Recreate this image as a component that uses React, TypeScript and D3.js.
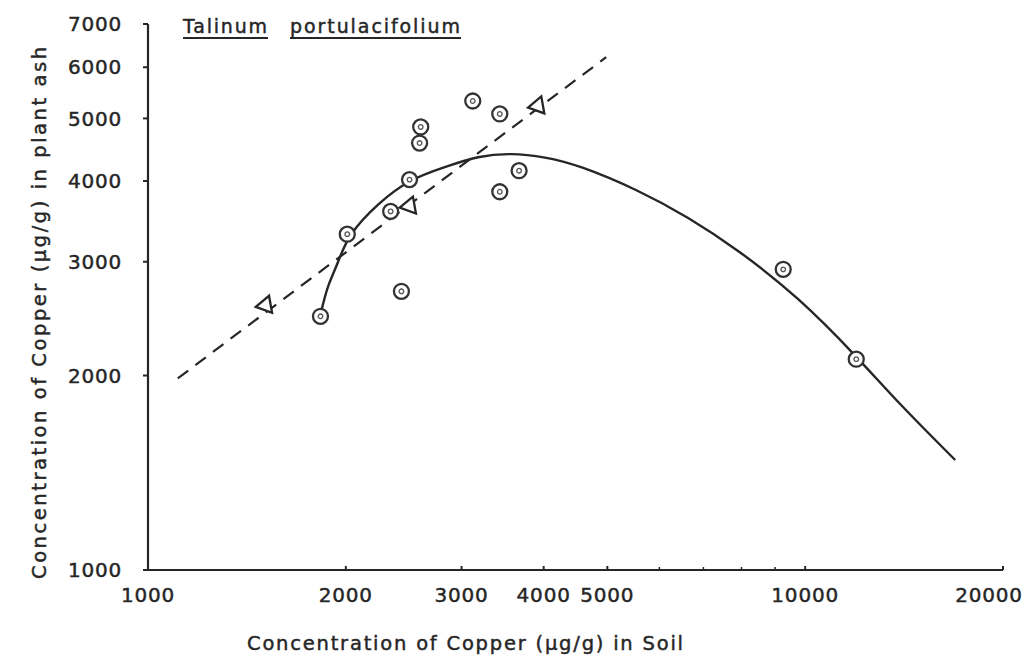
import React from 'react';
import * as d3 from 'd3';

// readings (ug/g)
const circleSoil = [1830, 2010, 2340, 2430, 2500, 2590, 2600, 3120, 3430, 3430, 3670, 9260, 11960];
const circlePlant = [2470, 3310, 3590, 2700, 4020, 4580, 4850, 5320, 3850, 5080, 4150, 2920, 2120];

const triangleSoil = [1510, 2500, 3920];
const trianglePlant = [2570, 3660, 5230];

// dashed regression line, end points
const dashedSoil = [1110, 4980];
const dashedPlant = [1980, 6220];

// fitted solid curve
const curveSoil = [1827, 1850, 1879, 1946, 2015, 2239, 2505, 2832, 3179, 3568, 4021, 4512, 5568, 6636, 7907, 9757, 12042, 13859, 16916];
const curvePlant = [2472, 2600, 2762, 2987, 3301, 3699, 4030, 4206, 4374, 4421, 4358, 4237, 3875, 3518, 3130, 2647, 2129, 1813, 1480];

const xTicks = [1000, 2000, 3000, 4000, 5000, 10000, 20000];
const xMinorTicks = [6000, 7000, 8000, 9000];
const yTicks = [1000, 2000, 3000, 4000, 5000, 6000, 7000];

const ink = '#262626';
const font = '"DejaVu Sans", Verdana, sans-serif';

const App = () => {
  const width = 1027;
  const height = 657;

  const x = d3.scaleLog().domain([1000, 20000]).range([148, 1003]);
  const y = d3.scaleLog().domain([1000, 7000]).range([570, 24]);

  const line = d3.line<[number, number]>()
    .x(d => x(d[0]))
    .y(d => y(d[1]));

  const curvePts = curveSoil.map((s, i) => [s, curvePlant[i]] as [number, number]);
  const dashedPts = dashedSoil.map((s, i) => [s, dashedPlant[i]] as [number, number]);

  const tri = d3.symbol().type(d3.symbolTriangle).size(130)();

  const x0 = x(1000);
  const y0 = y(1000);
  const textStyle = { fontFamily: font, fill: ink, stroke: ink, strokeWidth: 0.45 };

  return (
    <svg width={width} height={height} style={{ position: 'absolute', left: 0, top: 0, background: '#fff' }}>
      {/* axes */}
      <line x1={x0} y1={y(7000)} x2={x0} y2={y0} stroke={ink} strokeWidth={2.2} />
      <line x1={x0} y1={y0} x2={x(20000)} y2={y0} stroke={ink} strokeWidth={2.2} />

      {yTicks.map(t => (
        <g key={'y' + t}>
          <line x1={x0 - 5} x2={x0} y1={y(t)} y2={y(t)} stroke={ink} strokeWidth={2} />
          <text x={122} y={y(t)} dy="0.36em" textAnchor="end" fontSize={20} letterSpacing={0.8}
                style={textStyle}>{t}</text>
        </g>
      ))}

      {xTicks.map(t => (
        <g key={'x' + t}>
          <line x1={x(t)} x2={x(t)} y1={y0 - 4} y2={y0} stroke={ink} strokeWidth={2} />
          <text x={Math.min(x(t), width - 38)} y={602} textAnchor="middle" fontSize={20} letterSpacing={0.8}
                style={textStyle}>{t}</text>
        </g>
      ))}
      {xMinorTicks.map(t => (
        <line key={'m' + t} x1={x(t)} x2={x(t)} y1={y0 - 3} y2={y0} stroke={ink} strokeWidth={1.5} />
      ))}

      {/* axis titles */}
      <text x={247} y={650} fontSize={19.5} textLength={436} lengthAdjust="spacing" style={textStyle}>
        Concentration of Copper (μg/g) in Soil
      </text>
      <text transform="translate(46,579) rotate(-90)" fontSize={19.5} textLength={532}
            lengthAdjust="spacing" style={textStyle}>
        Concentration of Copper (μg/g) in plant ash
      </text>

      {/* species name, underlined */}
      <text x={183} y={33} fontSize={19} textLength={84} lengthAdjust="spacing" style={textStyle}>Talinum</text>
      <line x1={183} x2={268} y1={38} y2={38} stroke={ink} strokeWidth={1.8} />
      <text x={290} y={33} fontSize={19} textLength={170} lengthAdjust="spacing" style={textStyle}>portulacifolium</text>
      <line x1={290} x2={461} y1={38} y2={38} stroke={ink} strokeWidth={1.8} />

      {/* lines */}
      <path d={line.curve(d3.curveLinear)(dashedPts) || ''} fill="none" stroke={ink} strokeWidth={2.2}
            strokeDasharray="13 9" />
      <path d={line.curve(d3.curveBasis)(curvePts) || ''} fill="none" stroke={ink} strokeWidth={2.4} />

      {/* points */}
      {circleSoil.map((s, i) => (
        <g key={'c' + i} transform={`translate(${x(s)},${y(circlePlant[i])})`}>
          <circle r={7.5} fill="#fff" stroke="#333" strokeWidth={2.3} />
          <circle r={2.3} fill="none" stroke="#555" strokeWidth={1.3} />
        </g>
      ))}
      {triangleSoil.map((s, i) => (
        <path key={'t' + i} d={tri || ''} transform={`translate(${x(s)},${y(trianglePlant[i])}) rotate(-100)`}
              fill="#fff" stroke={ink} strokeWidth={2.3} />
      ))}
    </svg>
  );
};

export default App;
